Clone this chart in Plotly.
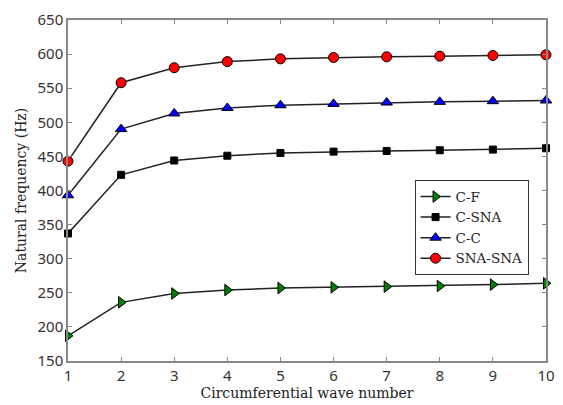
import plotly.graph_objects as go

wave_number = [1, 2, 3, 4, 5, 6, 7, 8, 9, 10]
c_f = [187, 236, 249, 254, 257, 258, 259, 260, 262, 264]
c_sna = [337, 423, 444, 451, 455, 457, 458, 459, 460, 462]
c_c = [393, 490, 513, 521, 525, 527, 529, 530, 531, 532]
sna_sna = [443, 558, 580, 589, 593, 595, 596, 597, 598, 599]

series = [
    ("C-F", c_f, "triangle-right", "green", 10),
    ("C-SNA", c_sna, "square", "black", 7),
    ("C-C", c_c, "triangle-up", "blue", 10),
    ("SNA-SNA", sna_sna, "circle", "red", 10),
]

fig = go.Figure()
for name, vals, sym, col, size in series:
    fig.add_trace(go.Scatter(
        x=wave_number, y=vals, name=name, mode="lines+markers",
        line=dict(color="#222222", width=1.5),
        marker=dict(symbol=sym, color=col, size=size, line=dict(color="black", width=1)),
        cliponaxis=False,
    ))

axis_common = dict(
    showline=True, linecolor="#888888", linewidth=1.5, mirror="ticks",
    ticks="inside", ticklen=4, tickcolor="#888888", showgrid=False, zeroline=False,
    tickfont=dict(family="Noto Sans", size=15, color="#333333"),
)
fig.update_xaxes(range=[1, 10], dtick=1, **axis_common,
                 title=dict(text="Circumferential wave number",
                            font=dict(family="DejaVu Serif", size=14, color="#222222"), standoff=2))
fig.update_yaxes(range=[150, 650], dtick=50, **axis_common,
                 title=dict(text="Natural frequency (Hz)",
                            font=dict(family="DejaVu Serif", size=14, color="#222222"), standoff=8))

fig.update_layout(
    width=563, height=405, plot_bgcolor="white", paper_bgcolor="white",
    margin=dict(l=68, r=8, t=20, b=41),
    legend=dict(x=0.725, y=0.53, xanchor="left", yanchor="top",
                bgcolor="white", bordercolor="#333333", borderwidth=1,
                font=dict(family="DejaVu Serif", size=13.5, color="#222222"),
                tracegroupgap=0, itemwidth=30),
    showlegend=True,
)

fig.write_html("out.html")
